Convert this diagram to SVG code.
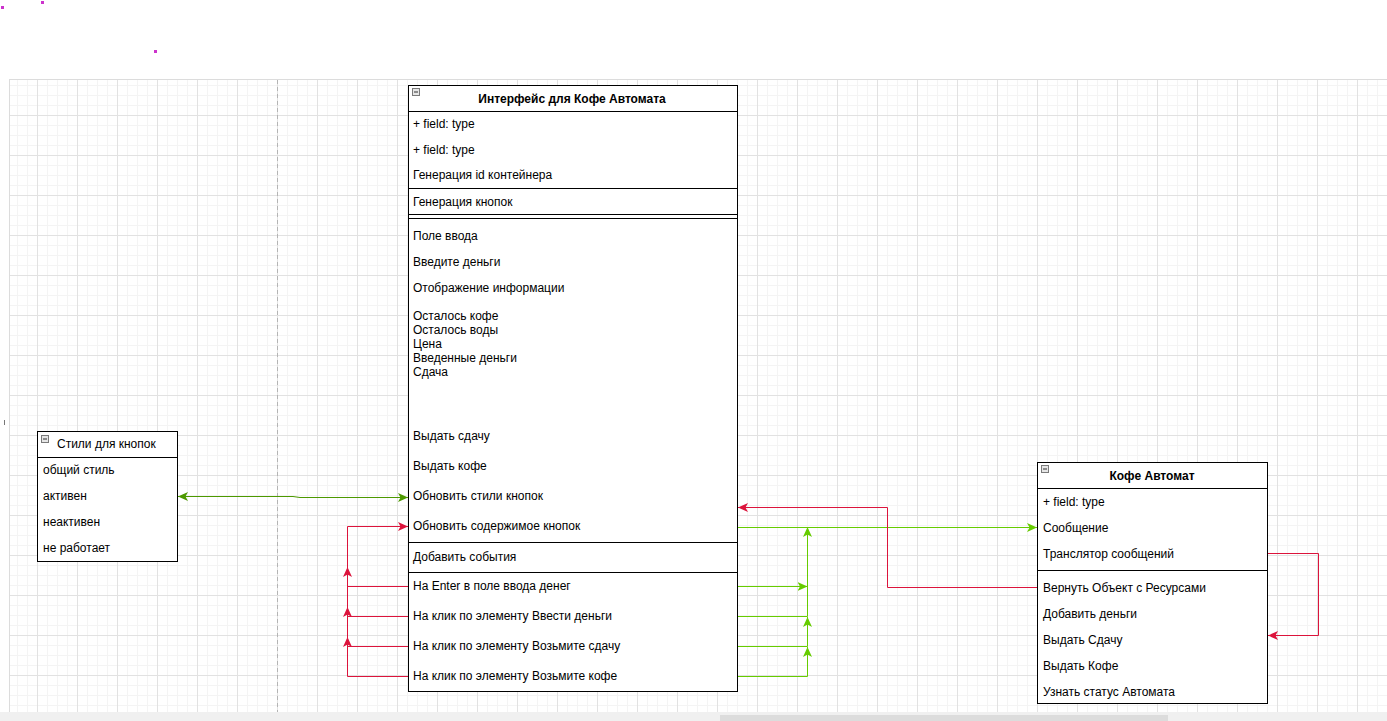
<svg xmlns="http://www.w3.org/2000/svg" width="1387" height="721" viewBox="0 0 1387 721">
<defs>
<pattern id="grid" width="40" height="40" patternUnits="userSpaceOnUse" x="-3" y="-5">
<path d="M10.5,0V40M20.5,0V40M30.5,0V40M0,10.5H40M0,20.5H40M0,30.5H40" stroke="#f4f4f4" stroke-width="1" fill="none"/>
<path d="M0.5,0V40M0,0.5H40" stroke="#e2e2e2" stroke-width="1" fill="none"/>
</pattern>
<marker id="aR" markerUnits="userSpaceOnUse" markerWidth="12" markerHeight="12" refX="10" refY="4.5" orient="auto-start-reverse"><path d="M0,0L10,4.5L0,9L2.5,4.5z" fill="#dc143c"/></marker>
<marker id="aG" markerUnits="userSpaceOnUse" markerWidth="12" markerHeight="12" refX="10" refY="4.5" orient="auto-start-reverse"><path d="M0,0L10,4.5L0,9L2.5,4.5z" fill="#66cc00"/></marker>
<marker id="aD" markerUnits="userSpaceOnUse" markerWidth="12" markerHeight="12" refX="10" refY="4.5" orient="auto-start-reverse"><path d="M0,0L10,4.5L0,9L2.5,4.5z" fill="#4d9900"/></marker>
</defs>
<style>
text{font-family:"Liberation Sans",Arial,sans-serif;font-size:12px;fill:#000}
.b{font-weight:bold}
.box{fill:#fff;stroke:#000;stroke-width:1}
.sep{stroke:#000;stroke-width:1;fill:none}
.ico{fill:#e6e6e6;stroke:#7a7a7a;stroke-width:1}
.icl{stroke:#303030;stroke-width:1}
.r{stroke:#dc143c;stroke-width:1;fill:none}
.g{stroke:#66cc00;stroke-width:1;fill:none}
.d{stroke:#4d9900;stroke-width:1;fill:none}
</style>
<rect x="0" y="0" width="1387" height="721" fill="#fff"/>
<rect x="9" y="79" width="1378" height="633" fill="url(#grid)"/>
<path d="M9,79.5H1387M9.5,79V712" stroke="#dcdcdc" stroke-width="1"/>
<path d="M277.5,80V712" stroke="#b4b4b4" stroke-width="1" stroke-dasharray="4,3"/>
<rect x="0" y="712" width="1387" height="9" fill="#f0f0f0"/>
<rect x="720" y="715" width="448" height="6" fill="#dcdcdc"/>
<rect x="1" y="6" width="3" height="3" fill="#c3c"/>
<rect x="41" y="1" width="3" height="3" fill="#c3c"/>
<rect x="154" y="50" width="3" height="3" fill="#c3c"/>
<rect x="4" y="420" width="1" height="5" fill="#777"/>

<g id="connectors">
<path class="d" d="M293,496.5H178" marker-end="url(#aD)"/>
<path class="d" d="M293,496.5L300,497.5H408" marker-end="url(#aD)"/>
<path class="r" d="M408,586.5H347.5V526.5H408" marker-end="url(#aR)"/>
<path class="r" d="M408,616.5H347.5V567" marker-end="url(#aR)"/>
<path class="r" d="M408,646.5H347.5V607" marker-end="url(#aR)"/>
<path class="r" d="M408,676.5H347.5V637" marker-end="url(#aR)"/>
<path class="g" d="M738,527.5H1037" marker-end="url(#aG)"/>
<path class="g" d="M738,586.5H807.5" marker-end="url(#aG)"/>
<path class="g" d="M738,616.5H807.5V527" marker-end="url(#aG)"/>
<path class="g" d="M738,646.5H807.5V617" marker-end="url(#aG)"/>
<path class="g" d="M738,676.5H807.5V647" marker-end="url(#aG)"/>
<path class="r" d="M1037,587.5H887.5V507.5H738" marker-end="url(#aR)"/>
<path class="r" d="M1268,553.5H1318.5V635.5H1268" marker-end="url(#aR)"/>
</g>

<g id="interface">
<rect class="box" x="408.5" y="85.5" width="329" height="606"/>
<path class="sep" d="M408,111.5H738M408,188.5H738M408,214.5H738M408,218.5H738M408,542.5H738M408,572.5H738"/>
<rect class="ico" x="412.5" y="88.5" width="7" height="7"/>
<path class="icl" d="M414,92H418"/>
<text class="b" x="572" y="103" text-anchor="middle">Интерфейс для Кофе Автомата</text>
<text x="413" y="128">+ field: type</text>
<text x="413" y="154">+ field: type</text>
<text x="413" y="179">Генерация id контейнера</text>
<text x="413" y="206">Генерация кнопок</text>
<text x="413" y="240">Поле ввода</text>
<text x="413" y="266">Введите деньги</text>
<text x="413" y="292">Отображение информации</text>
<text x="413" y="320">Осталось кофе</text>
<text x="413" y="334">Осталось воды</text>
<text x="413" y="348">Цена</text>
<text x="413" y="362">Введенные деньги</text>
<text x="413" y="376">Сдача</text>
<text x="413" y="440">Выдать сдачу</text>
<text x="413" y="470">Выдать кофе</text>
<text x="413" y="500">Обновить стили кнопок</text>
<text x="413" y="530">Обновить содержимое кнопок</text>
<text x="413" y="561">Добавить события</text>
<text x="413" y="590">На Enter в поле ввода денег</text>
<text x="413" y="620">На клик по элементу Ввести деньги</text>
<text x="413" y="650">На клик по элементу Возьмите сдачу</text>
<text x="413" y="680">На клик по элементу Возьмите кофе</text>
</g>

<g id="styles">
<rect class="box" x="37.5" y="431.5" width="140" height="130"/>
<path class="sep" d="M37,457.5H178"/>
<rect class="ico" x="41.5" y="435.5" width="7" height="7"/>
<path class="icl" d="M43,439H47"/>
<text x="57" y="448">Стили для кнопок</text>
<text x="43" y="474">общий стиль</text>
<text x="43" y="500">активен</text>
<text x="43" y="526">неактивен</text>
<text x="43" y="552">не работает</text>
</g>

<g id="coffee">
<rect class="box" x="1037.5" y="462.5" width="230" height="241"/>
<path class="sep" d="M1037,488.5H1268M1037,570.5H1268"/>
<rect class="ico" x="1041.5" y="465.5" width="7" height="7"/>
<path class="icl" d="M1043,469H1047"/>
<text class="b" x="1152" y="480" text-anchor="middle">Кофе Автомат</text>
<text x="1043" y="506">+ field: type</text>
<text x="1043" y="532">Сообщение</text>
<text x="1043" y="558">Транслятор сообщений</text>
<text x="1043" y="592">Вернуть Объект с Ресурсами</text>
<text x="1043" y="618">Добавить деньги</text>
<text x="1043" y="644">Выдать Сдачу</text>
<text x="1043" y="670">Выдать Кофе</text>
<text x="1043" y="696">Узнать статус Автомата</text>
</g>
</svg>
